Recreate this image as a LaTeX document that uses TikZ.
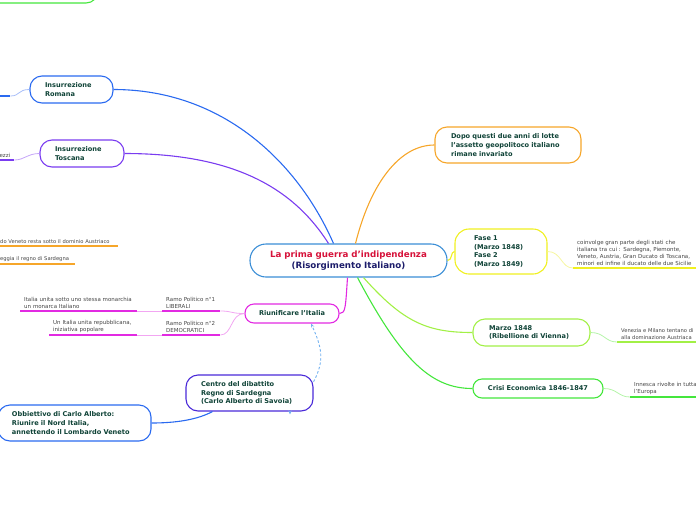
\documentclass[tikz,border=0pt]{standalone}
\usepackage{fontspec}
\setmainfont{DejaVu Sans}
\usetikzlibrary{arrows.meta,positioning,calc}
\definecolor{ink}{HTML}{0E4236}
\definecolor{leafink}{HTML}{444444}
\definecolor{titred}{HTML}{D6123A}
\definecolor{titnavy}{HTML}{1C1C6A}
\definecolor{ccen}{HTML}{3B8ED6}
\definecolor{cblue}{HTML}{2A6AF0}
\definecolor{lblue}{HTML}{A8BEF8}
\definecolor{cpurp}{HTML}{7A3CF0}
\definecolor{lpurp}{HTML}{C4A4F8}
\definecolor{cmag}{HTML}{E22AE2}
\definecolor{lmag}{HTML}{F2A6F2}
\definecolor{corange}{HTML}{F6A62A}
\definecolor{cyell}{HTML}{F0F020}
\definecolor{lyell}{HTML}{F6F6A0}
\definecolor{clime}{HTML}{A2F046}
\definecolor{cgreen}{HTML}{44E63C}
\definecolor{lgreen}{HTML}{B4F4A8}
\definecolor{cindigo}{HTML}{4A2AD8}
\definecolor{cdash}{HTML}{74B2F0}
\tikzset{
  topic/.style={draw=#1, line width=1.1pt, rounded corners=12pt, inner xsep=15pt, inner ysep=0pt,
    align=left, text=ink, font=\bfseries\fontsize{6.6}{8.8}\selectfont},
  leaf/.style={inner xsep=4pt, inner ysep=2.5pt, align=left, text=leafink,
    font=\fontsize{5.5}{7}\selectfont, anchor=south west},
  small leaf/.style={leaf, font=\fontsize{5.2}{7}\selectfont},
  under/.style={line width=1.3pt},
  branch/.style={line width=1.1pt},
  twig/.style={line width=0.8pt},
  rel/.style={cdash, line width=0.9pt, dashed, dash pattern=on 2.5pt off 2pt, -{Stealth[length=4pt,width=3.5pt]}},
}
\begin{document}
\begin{tikzpicture}[x=1pt, y=-1pt]
  \useasboundingbox (0,0) rectangle (696,520);
  % main topic
  \node[topic=ccen, rounded corners=16pt, align=center, text width=167pt, minimum height=33pt,
    font=\bfseries\fontsize{8.7}{11}\selectfont] (cen) at (348.5,260.5)
    {\textcolor{titred}{La prima guerra d'indipendenza}\\\textcolor{titnavy}{(Risorgimento Italiano)}};
  % left side
  \node[topic=cgreen, minimum width=140pt, minimum height=40pt] (top) at (28,-17) {};
  \node[topic=cblue, text width=53pt, minimum height=27pt] (rom) at (71.5,89.5) {Insurrezione\\Romana};
  \node[topic=cpurp, text width=54pt, minimum height=27pt] (tos) at (82,153.5) {Insurrezione\\Toscana};
  \node[topic=cmag, rounded corners=9pt, inner xsep=8pt, align=center, text width=78pt, minimum height=19pt] (riu) at (292,313.5) {Riunificare l'Italia};
  \node[topic=cindigo, text width=97pt, minimum height=36pt] (cdb) at (249.5,393)
    {Centro del dibattito\\Regno di Sardegna\\(Carlo Alberto di Savoia)};
  \node[topic=cblue, inner xsep=14pt, text width=125pt, minimum height=36pt] (obb) at (74.5,423)
    {Obbiettivo di Carlo Alberto:\\Riunire il Nord Italia,\\annettendo il Lombardo Veneto};
  % right side
  \node[topic=corange, inner xsep=16pt, text width=114pt, minimum height=36pt] (dop) at (508,145)
    {Dopo questi due anni di lotte\\l'assetto geopolitoco italiano\\rimane invariato};
  \node[topic=cyell, rounded corners=14pt, inner xsep=19pt, text width=54pt, minimum height=45pt,
    font=\bfseries\fontsize{6.6}{8.7}\selectfont] (fas) at (501,251.5)
    {Fase 1\\(Marzo 1848)\\Fase 2\\(Marzo 1849)};
  \node[topic=clime, inner xsep=16pt, text width=85pt, minimum height=27pt] (vie) at (531.5,332.5)
    {Marzo 1848\\(Ribellione di Vienna)};
  \node[topic=cgreen, rounded corners=9pt, inner xsep=8pt, align=center, text width=114pt, minimum height=19pt] (cri) at (538,388.5)
    {Crisi Economica 1846-1847};
  % leaves
  \node[leaf, text width=50pt] (lib) at (162,311) {Ramo Politico n\textdegree 1\\LIBERALI};
  \node[leaf, text width=50pt] (dem) at (162,335) {Ramo Politico n\textdegree 2\\DEMOCRATICI};
  \node[leaf, text width=109pt] (mon) at (20,311) {Italia unita sotto uno stessa monarchia\\un monarca Italiano};
  \node[leaf, text width=80pt] (rep) at (49,335) {Un Italia unita repubblicana,\\iniziativa popolare};
  \node[small leaf, inner xsep=1pt, text width=117pt] (aus) at (-1,246) {do Veneto resta sotto il dominio Austriaco};
  \node[small leaf, inner xsep=1pt, text width=74pt] (sar) at (-1,264) {eggia il regno di Sardegna};
  \node[leaf, text width=12pt] (romc) at (-10,96) {};
  \node[leaf, text width=30pt, align=right] (tosc) at (-24,160) {ezzi};
  \node[leaf, text width=140pt] (coi) at (573,268)
    {coinvolge gran parte degli stati che\\italiana tra cui : Sardegna, Piemonte,\\Veneto, Austria, Gran Ducato di Toscana,\\minori ed infine il ducato delle due Sicilie};
  \node[small leaf, text width=100pt] (ven) at (617,342) {Venezia e Milano tentano di\\alla dominazione Austriaca};
  \node[leaf, text width=100pt] (inn) at (630,397) {Innesca rivolte in tutta\\l'Europa};
  \coordinate (tip) at (290,414.5);
  % branches
  \draw[branch, cblue] ([xshift=-15pt]cen.north) .. controls +(-35,-80) and +(110,0) .. (rom.east);
  \draw[branch, cpurp] ([xshift=-20pt]cen.north) .. controls +(-35,-55) and +(110,0) .. (tos.east);
  \draw[branch, corange] ([xshift=7pt]cen.north) .. controls +(15,-60) and +(-35,0) .. (dop.west);
  \draw[branch, cyell] (cen.east) .. controls +(5,0) and +(-4,0) .. (fas.west);
  \draw[branch, clime] ([xshift=15pt]cen.south) .. controls +(40,45) and +(-45,0) .. (vie.west);
  \draw[branch, cgreen] ([xshift=9pt]cen.south) .. controls +(45,85) and +(-40,0) .. (cri.west);
  \draw[branch, cmag] ([xshift=-1pt]cen.south) .. controls +(-2,30) and +(6,0) .. (riu.east);
  \draw[branch, cblue] ([xshift=-37pt]cdb.south) .. controls +(-15,8) and +(25,0) .. (obb.east);
  % twigs
  \draw[twig, lblue] (rom.west) .. controls +(-12,0) and +(10,0) .. (romc.south east);
  \draw[twig, lpurp] (tos.west) .. controls +(-12,0) and +(10,0) .. (tosc.south east);
  \draw[twig, lmag] (riu.west) .. controls +(-14,0) and +(12,0) .. (lib.south east);
  \draw[twig, lmag] (riu.west) .. controls +(-14,0) and +(12,0) .. (dem.south east);
  \draw[twig, lmag] (mon.south east) -- (lib.south west);
  \draw[twig, lmag] (rep.south east) -- (dem.south west);
  \draw[twig, lyell] (fas.east) .. controls +(14,0) and +(-12,0) .. (coi.south west);
  \draw[twig, lgreen] (vie.east) .. controls +(14,0) and +(-12,0) .. (ven.south west);
  \draw[twig, lgreen] (cri.east) .. controls +(14,0) and +(-12,0) .. (inn.south west);
  % underlines
  \foreach \n in {lib,dem,mon,rep} \draw[under, cmag] (\n.south west) -- (\n.south east);
  \foreach \n in {aus,sar} \draw[under, corange] (\n.south west) -- (\n.south east);
  \draw[under, cblue] (romc.south west) -- (romc.south east);
  \draw[under, cpurp] (tosc.south west) -- (tosc.south east);
  \draw[under, cyell] (coi.south west) -- (coi.south east);
  \draw[under, clime] (ven.south west) -- (ven.south east);
  \draw[under, cgreen] (inn.south west) -- (inn.south east);
  % relation
  \draw[rel] (cdb.10) .. controls +(12,-22) and +(10,22) .. ([xshift=19pt]riu.south);
  \draw[rel, solid] ([xshift=40.5pt]cdb.south) -- (tip);
\end{tikzpicture}
\end{document}
